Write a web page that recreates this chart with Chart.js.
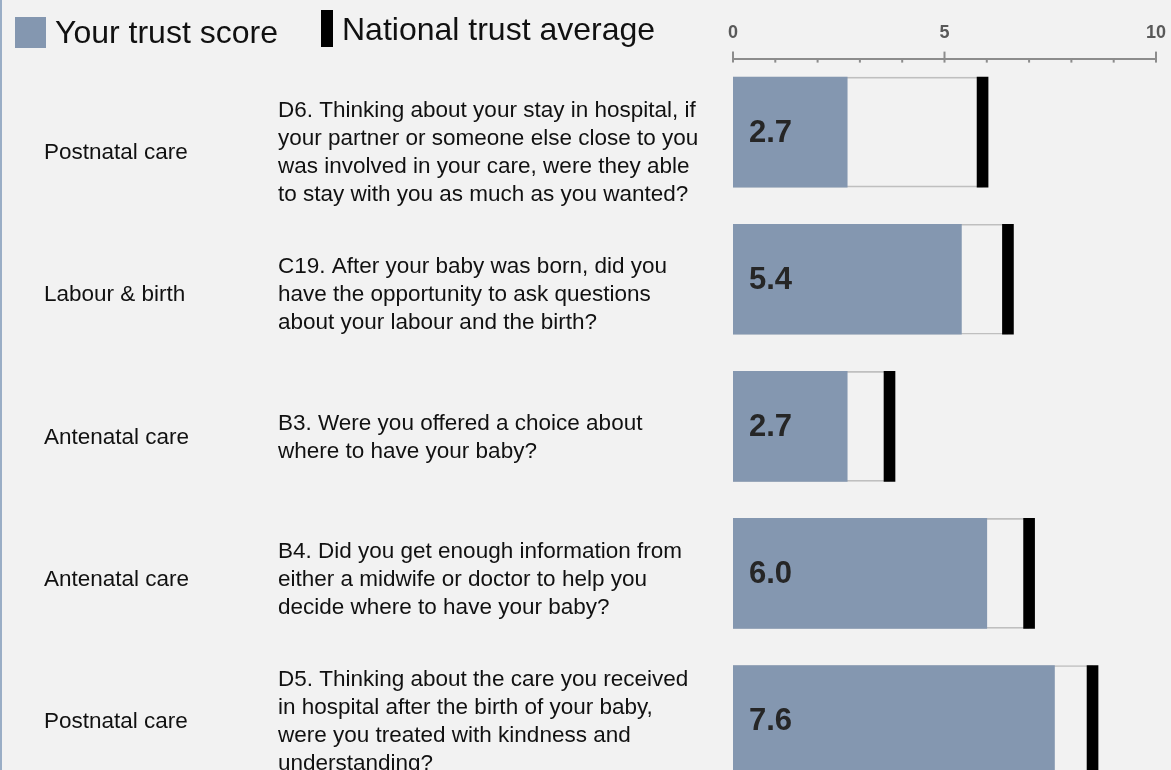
<!DOCTYPE html>
<html>
<head>
<meta charset="utf-8">
<title>Trust scores</title>
<script src="https://cdn.jsdelivr.net/npm/chart.js@4.4.0/dist/chart.umd.min.js"></script>
<style>
  html, body { margin: 0; padding: 0; background: #f2f2f2; overflow: hidden; }
  #wrap { position: relative; width: 1171px; height: 800px; }
  #edge { position: absolute; left: 0; top: 0; width: 2px; height: 100%; background: #9aaec6; }
</style>
</head>
<body>
<div id="wrap">
  <canvas id="trustChart"></canvas>
  <div id="edge"></div>
</div>
<script>
// Rows, top to bottom
const categories = ['Postnatal care', 'Labour & birth', 'Antenatal care', 'Antenatal care', 'Postnatal care'];
const questions = [
    ['D6. Thinking about your stay in hospital, if', 'your partner or someone else close to you', 'was involved in your care, were they able', 'to stay with you as much as you wanted?'],
    ['C19. After your baby was born, did you', 'have the opportunity to ask questions', 'about your labour and the birth?'],
    ['B3. Were you offered a choice about', 'where to have your baby?'],
    ['B4. Did you get enough information from', 'either a midwife or doctor to help you', 'decide where to have your baby?'],
    ['D5. Thinking about the care you received', 'in hospital after the birth of your baby,', 'were you treated with kindness and', 'understanding?']
];
const trustScores = [2.7, 5.4, 2.7, 6.0, 7.6];
const nationalAverages = [5.9, 6.5, 3.7, 7.0, 8.5];
const majorTicks = [0, 5, 10];

const FONT = 'Arial, "Liberation Sans", sans-serif';
const BLUE = '#8497b0';
Chart.defaults.font.family = FONT;

// legend, drawn by hand (two different marker shapes)
const legendBoxes = {
    id: 'legendBoxes',
    afterDraw(chart) {
        const ctx = chart.ctx;
        ctx.save();
        ctx.fillStyle = BLUE;
        ctx.fillRect(15, 17, 31, 31);
        ctx.fillStyle = '#000';
        ctx.fillRect(321, 10, 12, 37);
        ctx.fillStyle = '#111';
        ctx.font = '32px ' + FONT;
        ctx.textBaseline = 'alphabetic';
        ctx.fillText('Your trust score', 55, 43);
        ctx.fillText('National trust average', 342, 40);
        ctx.restore();
    }
};

// small tick marks on the top axis: long ones at 0/5/10, short ones in between
const axisTicks = {
    id: 'axisTicks',
    afterDraw(chart) {
        const x = chart.scales.x;
        const ctx = chart.ctx;
        const base = x.bottom;
        ctx.save();
        ctx.strokeStyle = '#8c8c8c';
        ctx.lineWidth = 2;
        x.ticks.forEach(t => {
            const px = x.getPixelForValue(t.value);
            const major = majorTicks.includes(t.value);
            ctx.beginPath();
            ctx.moveTo(px, base - (major ? 7 : 0));
            ctx.lineTo(px, base + 4);
            ctx.stroke();
        });
        ctx.restore();
    }
};

// category + question text on the left, score value inside the bar
const rowText = {
    id: 'rowText',
    afterDatasetsDraw(chart) {
        const {ctx, scales: {x, y}} = chart;
        ctx.save();
        ctx.textBaseline = 'middle';
        ctx.textAlign = 'left';

        ctx.font = 'bold 31px ' + FONT;
        ctx.fillStyle = '#262626';
        trustScores.forEach((v, i) => {
            ctx.fillText(v.toFixed(1), x.getPixelForValue(0) + 16, y.getPixelForValue(i) + 1);
        });

        // the text column sits on a slightly tighter grid than the bars
        const pitch = y.getPixelForValue(1) - y.getPixelForValue(0) - 5;
        const y0 = y.getPixelForValue(0) + 21;
        ctx.font = '22.5px ' + FONT;
        ctx.fillStyle = '#111';
        categories.forEach((c, i) => {
            const cy = y0 + i * pitch;
            ctx.fillText(c, 44, cy);
            const lines = questions[i];
            const top = cy - (lines.length - 1) * 28 / 2;
            lines.forEach((l, k) => ctx.fillText(l, 278, top + k * 28));
        });
        ctx.restore();
    }
};

const ctx = document.getElementById('trustChart').getContext('2d');
new Chart(ctx, {
    type: 'bar',
    data: {
        labels: categories,
        datasets: [{
            label: 'National trust average',
            data: nationalAverages.map(v => [v - 0.13, v + 0.13]),
            backgroundColor: '#000',
            order: 0
        }, {
            label: 'Your trust score',
            data: trustScores,
            backgroundColor: BLUE,
            order: 1
        }, {
            label: 'National range',
            data: nationalAverages.map(v => [0, v]),
            backgroundColor: 'rgba(0,0,0,0)',
            borderColor: '#bfbfbf',
            borderWidth: 1,
            borderSkipped: false,
            order: 2
        }]
    },
    options: {
        indexAxis: 'y',
        responsive: true,
        maintainAspectRatio: false,
        animation: false,
        layout: { padding: { left: 733, right: 5, top: 17, bottom: 6 } },
        datasets: { bar: { grouped: false, barThickness: 110 } },
        scales: {
            x: {
                position: 'top',
                min: 0,
                max: 10,
                grid: { display: false, drawTicks: true, tickLength: 10 },
                border: { display: true, color: '#8c8c8c', width: 2 },
                ticks: {
                    stepSize: 1,
                    autoSkip: false,
                    maxRotation: 0,
                    padding: 5,
                    color: '#595959',
                    font: { size: 18, weight: 'bold' },
                    callback: v => majorTicks.includes(v) ? v : ''
                }
            },
            y: { display: false }
        },
        plugins: {
            legend: { display: false },
            tooltip: { enabled: false }
        }
    },
    plugins: [legendBoxes, axisTicks, rowText]
});
</script>
</body>
</html>
